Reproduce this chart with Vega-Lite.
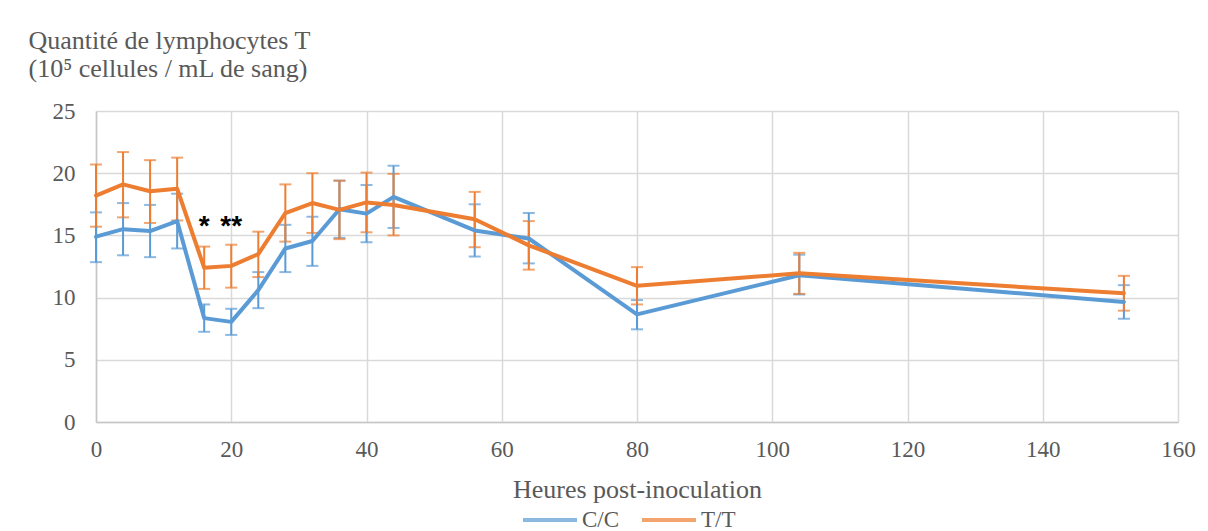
{
  "$schema": "https://vega.github.io/schema/vega-lite/v6.json",
  "width": 1082,
  "height": 311,
  "autosize": {"type": "none"},
  "padding": {"left": 96, "top": 111, "right": 30, "bottom": 109},
  "background": "white",
  "config": {
    "view": {"stroke": null},
    "font": "Liberation Serif",
    "style": {"guide-title": {"font": "Liberation Serif"}, "guide-label": {"font": "Liberation Serif"}},
    "axisY": {"titleFont": "Liberation Serif"},
    "axis": {
      "labelFont": "Liberation Serif",
      "titleFont": "Liberation Serif",
      "labelColor": "#595959",
      "titleColor": "#595959",
      "labelFontSize": 23,
      "titleFontSize": 26,
      "titleFontWeight": "normal",
      "gridColor": "#d9d9d9",
      "gridWidth": 1.5,
      "domainColor": "#c6c6c6",
      "domainWidth": 1.5,
      "ticks": false
    }
  },
  "datasets": {
    "series": [
      {"t": 0, "g": "C/C", "v": 14.9, "lo": 12.85, "hi": 16.85},
      {"t": 4, "g": "C/C", "v": 15.5, "lo": 13.4, "hi": 17.6},
      {"t": 8, "g": "C/C", "v": 15.35, "lo": 13.25, "hi": 17.45},
      {"t": 12, "g": "C/C", "v": 16.15, "lo": 13.95, "hi": 18.35},
      {"t": 16, "g": "C/C", "v": 8.35, "lo": 7.25, "hi": 9.45},
      {"t": 20, "g": "C/C", "v": 8.05, "lo": 7.0, "hi": 9.1},
      {"t": 24, "g": "C/C", "v": 10.6, "lo": 9.15, "hi": 12.05},
      {"t": 28, "g": "C/C", "v": 13.95, "lo": 12.05, "hi": 15.85},
      {"t": 32, "g": "C/C", "v": 14.55, "lo": 12.55, "hi": 16.5},
      {"t": 36, "g": "C/C", "v": 17.1, "lo": 14.8, "hi": 19.4},
      {"t": 40, "g": "C/C", "v": 16.75, "lo": 14.45, "hi": 19.05},
      {"t": 44, "g": "C/C", "v": 18.1, "lo": 15.6, "hi": 20.6},
      {"t": 56, "g": "C/C", "v": 15.4, "lo": 13.3, "hi": 17.5},
      {"t": 64, "g": "C/C", "v": 14.75, "lo": 12.75, "hi": 16.8},
      {"t": 80, "g": "C/C", "v": 8.65, "lo": 7.45, "hi": 9.8},
      {"t": 104, "g": "C/C", "v": 11.8, "lo": 10.25, "hi": 13.45},
      {"t": 152, "g": "C/C", "v": 9.65, "lo": 8.3, "hi": 11.0},
      {"t": 0, "g": "T/T", "v": 18.2, "lo": 15.7, "hi": 20.7},
      {"t": 4, "g": "T/T", "v": 19.1, "lo": 16.45, "hi": 21.7},
      {"t": 8, "g": "T/T", "v": 18.55, "lo": 16.0, "hi": 21.05},
      {"t": 12, "g": "T/T", "v": 18.75, "lo": 16.2, "hi": 21.25},
      {"t": 16, "g": "T/T", "v": 12.4, "lo": 10.7, "hi": 14.1},
      {"t": 20, "g": "T/T", "v": 12.55, "lo": 10.8, "hi": 14.25},
      {"t": 24, "g": "T/T", "v": 13.5, "lo": 11.65, "hi": 15.3},
      {"t": 28, "g": "T/T", "v": 16.8, "lo": 14.5, "hi": 19.1},
      {"t": 32, "g": "T/T", "v": 17.6, "lo": 15.2, "hi": 20.0},
      {"t": 36, "g": "T/T", "v": 17.05, "lo": 14.7, "hi": 19.4},
      {"t": 40, "g": "T/T", "v": 17.65, "lo": 15.25, "hi": 20.05},
      {"t": 44, "g": "T/T", "v": 17.45, "lo": 15.0, "hi": 19.95},
      {"t": 56, "g": "T/T", "v": 16.3, "lo": 14.05, "hi": 18.5},
      {"t": 64, "g": "T/T", "v": 14.2, "lo": 12.25, "hi": 16.15},
      {"t": 80, "g": "T/T", "v": 10.95, "lo": 9.45, "hi": 12.45},
      {"t": 104, "g": "T/T", "v": 11.95, "lo": 10.3, "hi": 13.6},
      {"t": 152, "g": "T/T", "v": 10.35, "lo": 8.95, "hi": 11.75}
    ],
    "stars": [
      {"t": 16, "v": 16.2, "label": "*"},
      {"t": 20, "v": 16.2, "label": "**"}
    ]
  },
  "layer": [
    {
      "data": {"name": "series"},
      "mark": {"type": "errorbar", "ticks": {"size": 12, "thickness": 2}, "thickness": 2},
      "encoding": {
        "x": {"field": "t", "type": "quantitative"},
        "y": {"field": "lo", "type": "quantitative", "title": ["Quantité de lymphocytes T", "(10⁵ cellules / mL de sang)"]},
        "y2": {"field": "hi"},
        "color": {"field": "g", "type": "nominal",
          "scale": {"domain": ["C/C", "T/T"], "range": ["#5b9bd5", "#ed7d31"]}}
      }
    },
    {
      "data": {"name": "series"},
      "mark": {"type": "line", "strokeWidth": 4, "strokeJoin": "round", "strokeCap": "round"},
      "encoding": {
        "x": {
          "field": "t", "type": "quantitative",
          "scale": {"domain": [0, 160], "nice": false, "zero": false},
          "axis": {
            "values": [0, 20, 40, 60, 80, 100, 120, 140, 160],
            "title": "Heures post-inoculation",
            "labelPadding": 16,
            "labelFlush": false,
            "titleBaseline": "alphabetic",
            "titleY": 75,
            "domain": true
          }
        },
        "y": {
          "field": "v", "type": "quantitative",
          "scale": {"domain": [0, 25], "nice": false},
          "axis": {
            "values": [0, 5, 10, 15, 20, 25],
            "labelPadding": 21,
            "titleFont": "Liberation Serif",
            "titleAngle": 0,
            "titleAlign": "left",
            "titleBaseline": "alphabetic",
            "titleX": -68,
            "titleY": -63,
            "titleLineHeight": 28,
            "domain": true
          }
        },
        "color": {
          "field": "g", "type": "nominal",
          "scale": {"domain": ["C/C", "T/T"], "range": ["#5b9bd5", "#ed7d31"]},
          "legend": {
            "title": null,
            "orient": "none",
            "direction": "horizontal",
            "legendX": 425,
            "legendY": 380,
            "symbolType": "stroke",
            "symbolSize": 2916,
            "symbolStrokeWidth": 4,
            "labelFont": "Liberation Serif",
            "labelFontSize": 23,
            "labelColor": "#595959",
            "labelOffset": 3,
            "columnPadding": 14
          }
        }
      }
    },
    {
      "data": {"name": "stars"},
      "mark": {"type": "text", "font": "Liberation Sans", "fontWeight": "bold", "fontSize": 28, "color": "black", "baseline": "middle", "dy": 7},
      "encoding": {
        "x": {"field": "t", "type": "quantitative"},
        "y": {"field": "v", "type": "quantitative"},
        "text": {"field": "label"}
      }
    }
  ]
}
